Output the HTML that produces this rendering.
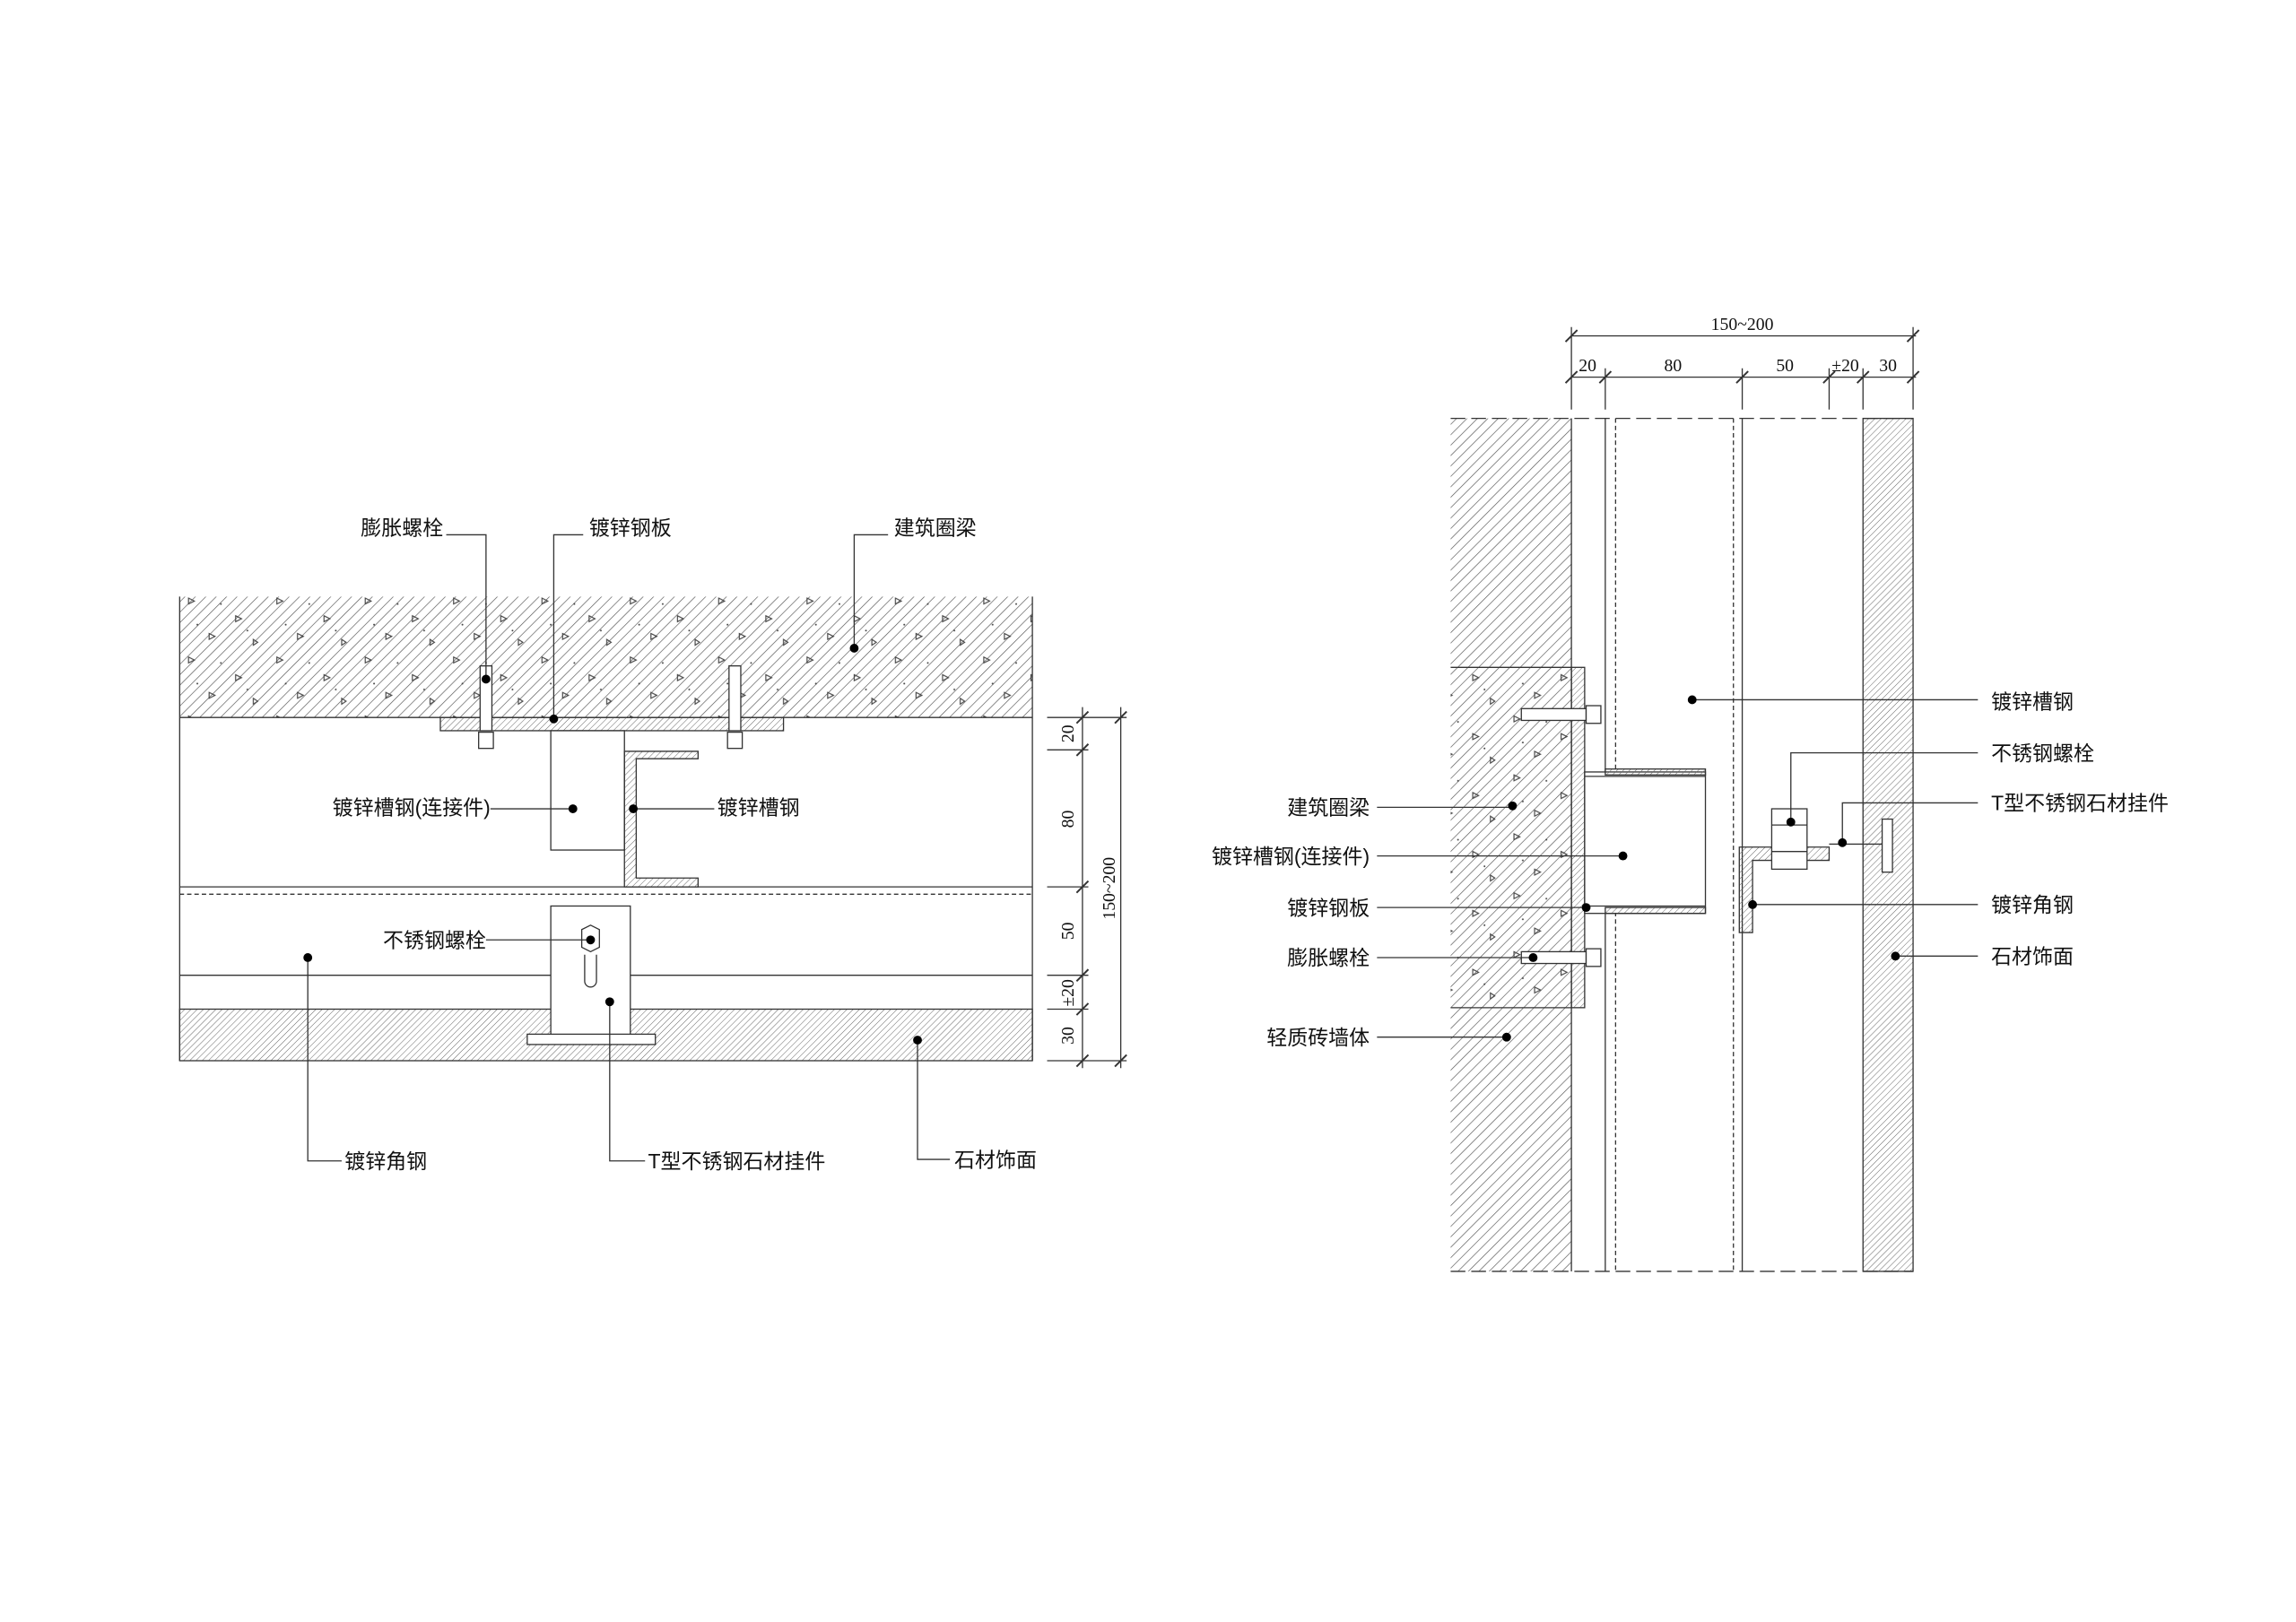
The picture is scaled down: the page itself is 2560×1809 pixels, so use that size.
<!DOCTYPE html>
<html><head><meta charset="utf-8"><style>
html,body{margin:0;padding:0;background:#fff;}
svg{display:block}
text{font-family:"Liberation Sans","Noto Sans CJK SC",sans-serif;font-size:14px;fill:#111}
.d{font-family:"Liberation Serif","Noto Serif CJK SC",serif;font-size:12px}
</style></head><body>
<svg width="2560" height="1809" viewBox="0 0 1559 1101" preserveAspectRatio="none" xmlns="http://www.w3.org/2000/svg">
<defs>
<pattern id="h" patternUnits="userSpaceOnUse" width="5" height="5" patternTransform="rotate(45)">
<line x1="0" y1="0" x2="0" y2="5" stroke="#555" stroke-width="0.8"/></pattern>
<pattern id="hs" patternUnits="userSpaceOnUse" width="3" height="3" patternTransform="rotate(45)">
<line x1="0" y1="0" x2="0" y2="3" stroke="#666" stroke-width="0.6"/></pattern>
<pattern id="tri" patternUnits="userSpaceOnUse" width="60" height="40">
<path d="M8 6l4 2-4 2z M40 18l4 2-4 2z M22 30l4 2-4 2z M52 34l3 2-3 2z" fill="none" stroke="#444" stroke-width="0.7"/>
<circle cx="30" cy="10" r="0.6" fill="#444"/><circle cx="14" cy="24" r="0.6" fill="#444"/><circle cx="48" cy="28" r="0.6" fill="#444"/></pattern>
</defs>
<g stroke="#333" stroke-width="0.8" fill="none">
<!-- LEFT DRAWING -->
<rect x="122" y="405" width="579" height="82" fill="url(#h)" stroke="none"/>
<rect x="122" y="405" width="579" height="82" fill="url(#tri)" stroke="none"/>
<line x1="122" y1="487" x2="701" y2="487"/>
<line x1="122" y1="405" x2="122" y2="720"/><line x1="701" y1="405" x2="701" y2="720"/>
<line x1="122" y1="602" x2="701" y2="602"/>
<line x1="122" y1="607" x2="701" y2="607" stroke-dasharray="3,2"/>
<line x1="122" y1="662" x2="701" y2="662"/>
<rect x="122" y="685" width="579" height="35" fill="url(#hs)"/>
<rect x="299" y="487" width="233" height="9" fill="url(#hs)"/>
<rect x="326" y="452" width="8" height="44" fill="#fff"/><rect x="495" y="452" width="8" height="44" fill="#fff"/>
<rect x="325" y="497" width="10" height="11" fill="#fff"/><rect x="494" y="497" width="10" height="11" fill="#fff"/>
<rect x="374" y="496" width="50" height="81" fill="#fff"/>
<path d="M424 602V510h50v5h-42v81h42v6z" fill="url(#hs)"/>
<rect x="374" y="615" width="54" height="93" fill="#fff"/>
<rect x="358" y="702" width="87" height="7" fill="#fff"/>
<polygon points="395,631 401,628 407,631 407,643 401,646 395,643" fill="#fff"/>
<path d="M397 648v18a4 4 0 0 0 8 0v-18"/>
<!-- left dims -->
<line x1="735" y1="480" x2="735" y2="725"/><line x1="761" y1="480" x2="761" y2="725"/>
<g stroke-width="1.2"><path d="M731 491l8-8M731 513l8-8M731 606l8-8M731 666l8-8M731 689l8-8M731 724l8-8M757 491l8-8M757 724l8-8"/></g>
<path d="M711 487h54M711 509h28M711 602h28M711 662h28M711 685h28M711 720h54"/>
<!-- left leaders -->
<path d="M303 363h27v98M376 488V363h20M580 440V363h23M333 549h56M430 549h55M330 638h71M209 650v138h23M414 680v108h24M623 706v81h22"/>
<!-- RIGHT DRAWING -->
<rect x="985" y="284" width="82" height="579" fill="url(#h)" stroke="none"/>
<rect x="985" y="453" width="82" height="231" fill="url(#tri)" stroke="none"/>
<path d="M985 453h82M985 684h82M1067 284v579"/>
<line x1="985" y1="284" x2="1299" y2="284" stroke-dasharray="10,4"/>
<line x1="985" y1="863" x2="1299" y2="863" stroke-dasharray="10,4"/>
<line x1="1090" y1="284" x2="1090" y2="863"/>
<line x1="1097" y1="284" x2="1097" y2="863" stroke-dasharray="3,2"/>
<line x1="1177" y1="284" x2="1177" y2="863" stroke-dasharray="3,2"/>
<line x1="1183" y1="284" x2="1183" y2="863"/>
<rect x="1265" y="284" width="34" height="579" fill="url(#hs)"/>
<rect x="1067" y="453" width="9" height="231" fill="url(#hs)"/>
<rect x="1076" y="524" width="82" height="96" fill="#fff"/>
<path d="M1076 527h82M1076 615h82"/>
<rect x="1090" y="522" width="68" height="4" fill="url(#hs)"/>
<rect x="1090" y="616" width="68" height="4" fill="url(#hs)"/>
<rect x="1033" y="481" width="44" height="8" fill="#fff"/><rect x="1033" y="646" width="44" height="8" fill="#fff"/>
<rect x="1077" y="479" width="10" height="12" fill="#fff"/><rect x="1077" y="644" width="10" height="12" fill="#fff"/>
<path d="M1181 633V575h61v9h-52v49z" fill="url(#hs)"/>
<rect x="1203" y="549" width="24" height="41" fill="#fff"/>
<path d="M1203 560h24M1203 578h24"/>
<path d="M1242 573h36"/><rect x="1278" y="556" width="7" height="36" fill="#fff"/>
<!-- right dims -->
<path d="M1067 228h234M1067 256h234"/>
<path d="M1067 222v56M1090 250v28M1183 250v28M1242 250v28M1265 250v28M1299 222v56"/>
<g stroke-width="1.2"><path d="M1063 232l8-8M1063 260l8-8M1086 260l8-8M1179 260l8-8M1238 260l8-8M1261 260l8-8M1295 260l8-8M1295 232l8-8"/></g>
<!-- right leaders -->
<path d="M1149 475h194M1216 558V511h127M1251 572V545h92M1190 614h153M1287 649h56"/>
<path d="M935 548h92M935 581h167M935 616h142M935 650h106M935 704h88"/>
</g>
<g fill="#000">
<circle cx="580" cy="440" r="3"/><circle cx="330" cy="461" r="3"/><circle cx="376" cy="488" r="3"/>
<circle cx="389" cy="549" r="3"/><circle cx="430" cy="549" r="3"/><circle cx="401" cy="638" r="3"/>
<circle cx="209" cy="650" r="3"/><circle cx="414" cy="680" r="3"/><circle cx="623" cy="706" r="3"/>
<circle cx="1149" cy="475" r="3"/><circle cx="1216" cy="558" r="3"/><circle cx="1251" cy="572" r="3"/>
<circle cx="1190" cy="614" r="3"/><circle cx="1287" cy="649" r="3"/><circle cx="1027" cy="547" r="3"/>
<circle cx="1102" cy="581" r="3"/><circle cx="1077" cy="616" r="3"/><circle cx="1041" cy="650" r="3"/><circle cx="1023" cy="704" r="3"/>
</g>
<text x="245" y="363">膨胀螺栓</text>
<text x="400" y="363">镀锌钢板</text>
<text x="607" y="363">建筑圈梁</text>
<text x="333" y="553" text-anchor="end">镀锌槽钢(连接件)</text>
<text x="487" y="553">镀锌槽钢</text>
<text x="330" y="643" text-anchor="end">不锈钢螺栓</text>
<text x="234" y="793">镀锌角钢</text>
<text x="440" y="793">T型不锈钢石材挂件</text>
<text x="648" y="792">石材饰面</text>
<g class="d">
<text class="d" transform="translate(729,498) rotate(-90)" text-anchor="middle">20</text>
<text class="d" transform="translate(729,556) rotate(-90)" text-anchor="middle">80</text>
<text class="d" transform="translate(729,632) rotate(-90)" text-anchor="middle">50</text>
<text class="d" transform="translate(729,674) rotate(-90)" text-anchor="middle">±20</text>
<text class="d" transform="translate(729,703) rotate(-90)" text-anchor="middle">30</text>
<text class="d" transform="translate(757,603) rotate(-90)" text-anchor="middle">150~200</text>
<text class="d" x="1183" y="224" text-anchor="middle">150~200</text>
<text class="d" x="1078" y="252" text-anchor="middle">20</text>
<text class="d" x="1136" y="252" text-anchor="middle">80</text>
<text class="d" x="1212" y="252" text-anchor="middle">50</text>
<text class="d" x="1253" y="252" text-anchor="middle">±20</text>
<text class="d" x="1282" y="252" text-anchor="middle">30</text>
</g>
<text x="1352" y="481">镀锌槽钢</text>
<text x="1352" y="516">不锈钢螺栓</text>
<text x="1352" y="550">T型不锈钢石材挂件</text>
<text x="1352" y="619">镀锌角钢</text>
<text x="1352" y="654">石材饰面</text>
<text x="930" y="553" text-anchor="end">建筑圈梁</text>
<text x="930" y="586" text-anchor="end">镀锌槽钢(连接件)</text>
<text x="930" y="621" text-anchor="end">镀锌钢板</text>
<text x="930" y="655" text-anchor="end">膨胀螺栓</text>
<text x="930" y="709" text-anchor="end">轻质砖墙体</text>
</svg>
</body></html>
